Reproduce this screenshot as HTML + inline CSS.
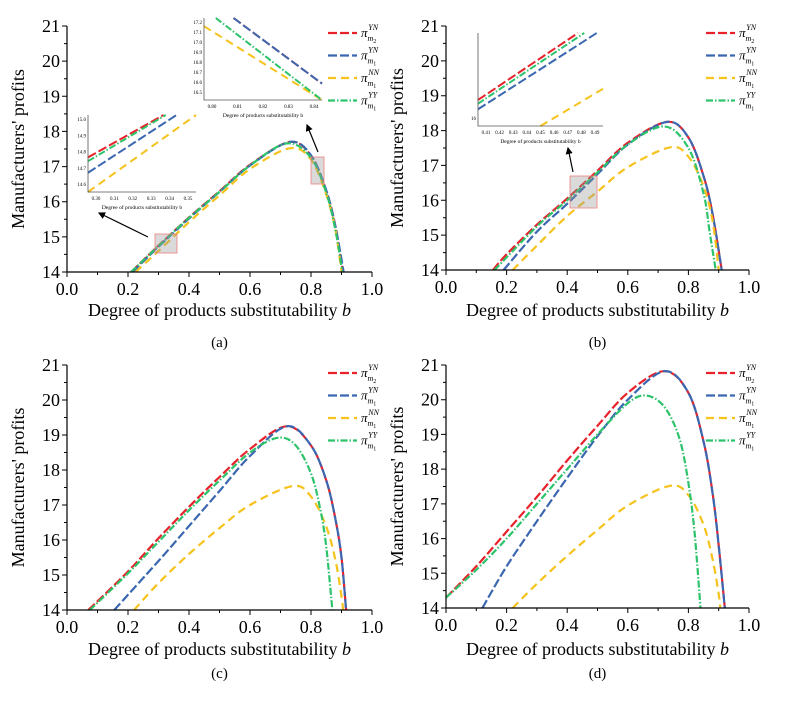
<!DOCTYPE html>
<html><head><meta charset="utf-8"><style>
body{margin:0;background:#fff}
svg{display:block;font-family:"Liberation Serif",serif}
</style></head><body>
<svg id="fig" width="786" height="701" viewBox="0 0 786 701"></svg>
<script>
// ---- data ----
const colors = ["#e8222a","#3b67b0","#f6c21c","#2cc36b"];
const seriesNames = ["YN-m2","YN-m1","NN-m1","YY-m1"];
const xTicks = [0,0.2,0.4,0.6,0.8,1.0];
const yTicks = [14,15,16,17,18,19,20,21];
// panel a
const aRedX=[0.21,0.3,0.4,0.5,0.6,0.73,0.8,0.85,0.88,0.905];
const aRedY=[14,14.75,15.55,16.3,17.05,17.7,17.3,16.3,15.3,14];
const aBlueX=[0.215,0.3,0.4,0.5,0.6,0.73,0.8,0.85,0.88,0.907];
const aBlueY=[14,14.72,15.52,16.28,17.03,17.7,17.32,16.32,15.3,14];
const aYelX=[0.225,0.3,0.4,0.5,0.6,0.73,0.8,0.85,0.88,0.9];
const aYelY=[14,14.6,15.42,16.18,16.93,17.52,17.2,16.2,15.2,14];
const aGrnX=[0.21,0.3,0.4,0.5,0.6,0.72,0.8,0.85,0.88,0.903];
const aGrnY=[14,14.74,15.54,16.28,17.03,17.66,17.25,16.25,15.2,14];
// panel b
const bRedX=[0.155,0.2,0.3,0.4,0.5,0.6,0.73,0.8,0.85,0.88,0.91];
const bRedY=[14,14.45,15.3,16.05,16.85,17.65,18.25,17.8,16.7,15.6,14];
const bBlueX=[0.19,0.3,0.4,0.5,0.6,0.73,0.8,0.85,0.88,0.91];
const bBlueY=[14,15.1,15.9,16.75,17.6,18.25,17.8,16.7,15.6,14];
const bYelX=[0.22,0.3,0.4,0.5,0.6,0.74,0.8,0.85,0.88,0.9];
const bYelY=[14,14.7,15.55,16.25,16.95,17.52,17.25,16.4,15.4,14];
const bGrnX=[0.16,0.3,0.4,0.5,0.6,0.72,0.8,0.85,0.87,0.89];
const bGrnY=[14,15.25,16.0,16.8,17.6,18.12,17.5,16.2,15.1,14];
// panel c
const cRedX=[0.07,0.2,0.3,0.4,0.5,0.6,0.72,0.8,0.85,0.88,0.9,0.915];
const cRedY=[14,15.1,16.05,16.95,17.8,18.6,19.25,18.7,17.7,16.6,15.5,14];
const cBlueX=[0.155,0.3,0.4,0.5,0.6,0.72,0.8,0.85,0.88,0.9,0.915];
const cBlueY=[14,15.4,16.4,17.4,18.4,19.25,18.7,17.7,16.6,15.5,14];
const cYelX=[0.22,0.3,0.4,0.5,0.6,0.74,0.8,0.85,0.88,0.9,0.905];
const cYelY=[14,14.77,15.6,16.34,17.0,17.54,17.24,16.38,15.43,14.39,14];
const cGrnX=[0.075,0.2,0.3,0.4,0.5,0.6,0.69,0.75,0.8,0.83,0.85,0.87];
const cGrnY=[14,15.05,15.95,16.85,17.7,18.5,18.92,18.7,17.9,16.9,15.8,14];
// panel d
const dRedX=[0,0.1,0.2,0.3,0.4,0.5,0.6,0.72,0.8,0.85,0.88,0.9,0.92];
const dRedY=[14.3,15.2,16.2,17.2,18.25,19.25,20.2,20.82,20.2,18.8,17.3,15.8,14];
const dBlueX=[0.12,0.2,0.3,0.4,0.5,0.6,0.72,0.8,0.85,0.88,0.9,0.92];
const dBlueY=[14,15.2,16.5,17.75,18.95,20.0,20.82,20.2,18.8,17.3,15.8,14];
const dYelX=[0.22,0.3,0.4,0.5,0.6,0.74,0.8,0.85,0.88,0.9,0.905];
const dYelY=[14,14.7,15.5,16.25,16.95,17.52,17.25,16.4,15.4,14.4,14];
const dGrnX=[0,0.1,0.2,0.3,0.4,0.5,0.6,0.66,0.72,0.77,0.8,0.82,0.84];
const dGrnY=[14.3,15.1,16.0,17.0,18.0,19.0,19.9,20.12,19.8,18.9,17.6,16.2,14];

const svg=document.getElementById('fig');
const NS="http://www.w3.org/2000/svg";
function mk(tag,attrs,parent){const e=document.createElementNS(NS,tag);for(const k in attrs)e.setAttribute(k,attrs[k]);(parent||svg).appendChild(e);return e;}
const dashes=["9,3","9,3","8,5","7,2,1.5,2"];
function smooth(pts){
 let d=`M${pts[0][0].toFixed(1)},${pts[0][1].toFixed(1)}`;
 for(let i=0;i<pts.length-1;i++){
  const p0=pts[Math.max(i-1,0)],p1=pts[i],p2=pts[i+1],p3=pts[Math.min(i+2,pts.length-1)];
  const c1=[p1[0]+(p2[0]-p0[0])/6,p1[1]+(p2[1]-p0[1])/6];
  const c2=[p2[0]-(p3[0]-p1[0])/6,p2[1]-(p3[1]-p1[1])/6];
  d+=`C${c1[0].toFixed(1)},${c1[1].toFixed(1)} ${c2[0].toFixed(1)},${c2[1].toFixed(1)} ${p2[0].toFixed(1)},${p2[1].toFixed(1)}`;
 }
 return d;
}

const panels=[
 {id:"a",x0:67,x1:372,yt:26,yb:272,lx:328,ly:33,title:316,lab:347,data:[[aRedX,aRedY],[aBlueX,aBlueY],[aYelX,aYelY],[aGrnX,aGrnY]]},
 {id:"b",x0:446,x1:749,yt:26,yb:270,lx:706,ly:33,title:316,lab:347,data:[[bRedX,bRedY],[bBlueX,bBlueY],[bYelX,bYelY],[bGrnX,bGrnY]]},
 {id:"c",x0:67,x1:372,yt:365,yb:610,lx:328,ly:373,title:655,lab:678,data:[[cRedX,cRedY],[cBlueX,cBlueY],[cYelX,cYelY],[cGrnX,cGrnY]]},
 {id:"d",x0:446,x1:749,yt:365,yb:608,lx:706,ly:373,title:655,lab:678,data:[[dRedX,dRedY],[dBlueX,dBlueY],[dYelX,dYelY],[dGrnX,dGrnY]]}
];
const sups=["YN","YN","NN","YY"],subs=["2","1","1","1"];

panels.forEach(p=>{
 const g=mk('g',{});
 
 
 const X=v=>p.x0+(v-0)/(1-0)*(p.x1-p.x0);
 const Y=v=>p.yb-(v-14)/(21-14)*(p.yb-p.yt);
 p.data.forEach((s,i)=>{
  const pts=s[0].map((x,j)=>[X(x),Y(s[1][j])]);
  const path=mk('path',{d:smooth(pts),fill:'none',stroke:colors[i],'stroke-width':2.2,'stroke-dasharray':dashes[i]},g);
  
  
 });
 const ax=mk('path',{d:`M${p.x0},${p.yt}V${p.yb}H${p.x1}`,fill:'none',stroke:'#000','stroke-width':1.2},g);
 
 
 let tk='';
 for(let v=14;v<=21.001;v+=0.5){const L=(Math.abs(v-Math.round(v))<0.01)?5:3;tk+=`M${p.x0},${Y(v)}h${-L}`;}
 for(let v=0;v<=1.001;v+=0.1){const L=(Math.round(v*10)%2==0)?5:3;tk+=`M${X(v)},${p.yb}v${L}`;}
 mk('path',{d:tk,stroke:'#000','stroke-width':1},g);
 yTicks.forEach(v=>{const t=mk('text',{x:p.x0-7,y:Y(v)+6,'text-anchor':'end','font-size':18},g);t.textContent=v;
  });
 xTicks.forEach(v=>{const t=mk('text',{x:X(v),y:p.yb+23,'text-anchor':'middle','font-size':18},g);t.textContent=v.toFixed(1);
  });
 const cy=(p.yt+p.yb)/2, ttx=p.x0-43;
 const yt=mk('text',{x:ttx,y:cy,'text-anchor':'middle','font-size':18,transform:`rotate(-90 ${ttx} ${cy})`},g);
 yt.textContent="Manufacturers' profits";
 
 const xt=mk('text',{x:(p.x0+p.x1)/2,y:p.title,'text-anchor':'middle','font-size':18},g);
 xt.innerHTML='Degree of products substitutability <tspan font-style="italic">b</tspan>';
 
 const lb=mk('text',{x:(p.x0+p.x1)/2,y:p.lab,'text-anchor':'middle','font-size':15},g);
 lb.textContent='('+p.id+')';
 
 for(let i=0;i<4;i++){
  const yy=p.ly+i*22.5;
  const lg=mk('g',{},g);
  
  
  mk('line',{x1:p.lx,x2:p.lx+29,y1:yy,y2:yy,stroke:colors[i],'stroke-width':2.2,'stroke-dasharray':dashes[i]},lg);
  const t=mk('text',{x:p.lx+33,y:yy+4,'font-size':13,'font-style':'italic'},lg);
  t.innerHTML=`π<tspan font-size="8" dy="4">m</tspan><tspan font-size="6" dy="2" font-style="normal">${subs[i]}</tspan><tspan font-size="8" dx="-8" dy="-13">${sups[i]}</tspan>`;
 }
});

function inset(name,x,y,w,h,xl,yl,segs){
 const g=mk('g',{});
 
 
 mk('rect',{x:x,y:y,width:w,height:h,fill:'#fff'},g);
 segs.forEach((s,i)=>{if(!s)return;mk('line',{x1:x+s[0]*w,y1:y+s[1]*h,x2:x+s[2]*w,y2:y+s[3]*h,stroke:colors[i],'stroke-width':2,'stroke-dasharray':dashes[i]},g);});
 mk('path',{d:`M${x},${y}V${y+h}H${x+w}`,fill:'none',stroke:'#555','stroke-width':0.8},g);
 xl.forEach((v,i)=>{const t=mk('text',{x:x+8+i*(w-16)/(xl.length-1),y:y+h+8,'font-size':5,'text-anchor':'middle'},g);t.textContent=v;});
 yl.forEach((v,i)=>{const t=mk('text',{x:x-2,y:y+h-6-i*(h-12)/(Math.max(yl.length-1,1)),'font-size':5,'text-anchor':'end'},g);t.textContent=v;});
 const t=mk('text',{x:x+w/2,y:y+h+17,'font-size':5.5,'text-anchor':'middle'},g);t.textContent='Degree of products substitutability b';
}
inset('inset-a-left',88,115,108,77,["0.30","0.31","0.32","0.33","0.34","0.35"],["14.6","14.7","14.8","14.9","15.0"],
 [[0,0.55,0.7,0],[0,0.75,0.82,0],[0,1,1,0.0],[0,0.6,0.72,0]]);
inset('inset-a-top',204,18,118,82,["0.80","0.81","0.82","0.83","0.84"],["16.5","16.6","16.7","16.8","16.9","17.0","17.1","17.2"],
 [[0.25,0,1,0.8],[0.25,0,1,0.8],[0,0.1,1,1],[0.1,0,1,1]]);
inset('inset-b',478,33,125,93,["0.41","0.42","0.43","0.44","0.45","0.46","0.47","0.48","0.49"],["16"],
 [[0,0.72,0.8,0],[0,0.82,0.95,0],[0.5,1,1,0.6],[0,0.76,0.85,0]]);
[[155,234,22,19],[311,157,13,27],[570,176,27,32]].forEach(r=>{
 const e=mk('rect',{x:r[0],y:r[1],width:r[2],height:r[3],fill:'rgba(150,150,150,0.35)',stroke:'#f08080','stroke-width':0.8});
 
});
mk('defs',{}).innerHTML='<marker id="ar" markerWidth="6" markerHeight="6" refX="5" refY="3" orient="auto"><path d="M0,0L6,3L0,6z" fill="#000"/></marker>';
[[148,237,99,213],[318,152,307,125],[573,172,568,148]].forEach(a=>{
 const e=mk('line',{x1:a[0],y1:a[1],x2:a[2],y2:a[3],stroke:'#000','stroke-width':1.2,'marker-end':'url(#ar)'});
 
});
</script>
</body></html>
